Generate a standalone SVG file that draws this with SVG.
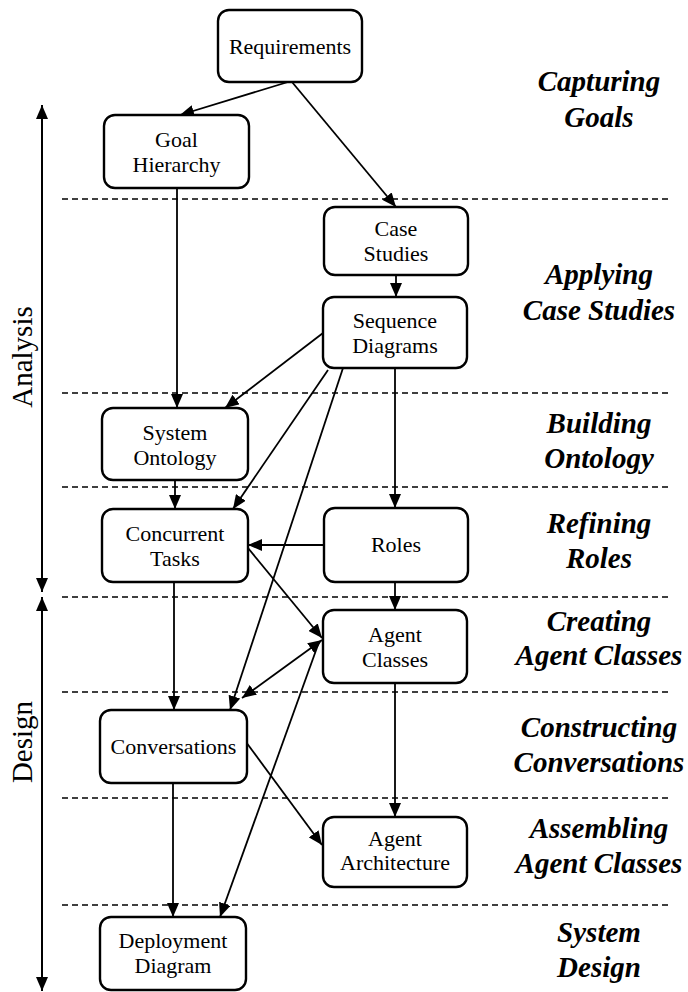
<svg xmlns="http://www.w3.org/2000/svg" width="688" height="992" viewBox="0 0 688 992">
  <style>
    .box { fill: #fff; stroke: #000; stroke-width: 2.4; }
    .lbl { font-family: "Liberation Serif", "Times New Roman", serif; font-size: 22px; fill: #000; text-anchor: middle; }
    .phase { font-family: "Liberation Serif", "Times New Roman", serif; font-size: 29px; font-weight: bold; font-style: italic; fill: #000; text-anchor: middle; }
    .axis-lbl { font-family: "Liberation Serif", "Times New Roman", serif; font-size: 29px; fill: #000; text-anchor: middle; }
    .sep { stroke: #000; stroke-width: 1.6; stroke-dasharray: 6 4; fill: none; }
    .edge { stroke: #000; stroke-width: 1.8; fill: none; marker-end: url(#arrow); }
    .both { marker-start: url(#arrow); }
    .axis { stroke: #000; stroke-width: 2; fill: none; marker-start: url(#arrow); marker-end: url(#arrow); }
  </style>
  <defs>
    <marker id="arrow" viewBox="0 0 14 12" refX="14" refY="6" markerWidth="14" markerHeight="12" markerUnits="userSpaceOnUse" orient="auto-start-reverse">
      <path d="M0,0 L14,6 L0,12 z" fill="#000"/>
    </marker>
  </defs>
  <rect width="688" height="992" fill="#fff"/>

  <!-- phase separators -->
  <g id="separators">
    <line class="sep" x1="62" y1="199" x2="668" y2="199"/>
    <line class="sep" x1="62" y1="393" x2="668" y2="393"/>
    <line class="sep" x1="62" y1="487" x2="668" y2="487"/>
    <line class="sep" x1="62" y1="597" x2="668" y2="597"/>
    <line class="sep" x1="62" y1="692" x2="668" y2="692"/>
    <line class="sep" x1="62" y1="798" x2="668" y2="798"/>
    <line class="sep" x1="62" y1="905" x2="668" y2="905"/>
  </g>

  <!-- Analysis / Design axis -->
  <g id="axis">
    <line class="axis" x1="42" y1="105" x2="42" y2="592"/>
    <line class="axis" x1="42" y1="597" x2="42" y2="991"/>
    <text class="axis-lbl" transform="translate(32,357) rotate(-90)">Analysis</text>
    <text class="axis-lbl" transform="translate(32,742) rotate(-90)">Design</text>
  </g>

  <!-- connectors -->
  <g id="connectors">
    <line class="edge" x1="288" y1="82" x2="180" y2="115"/>
    <line class="edge" x1="292" y1="82" x2="396" y2="207"/>
    <line class="edge" x1="177" y1="188" x2="177" y2="408"/>
    <line class="edge" x1="396" y1="275" x2="396" y2="297"/>
    <line class="edge" x1="323" y1="333" x2="225" y2="408"/>
    <line class="edge" x1="395" y1="368" x2="395" y2="508"/>
    <line class="edge" x1="175" y1="480" x2="175" y2="509"/>
    <line class="edge" x1="328" y1="370" x2="233" y2="509"/>
    <line class="edge" x1="343" y1="368" x2="230" y2="710"/>
    <line class="edge" x1="324" y1="545" x2="248" y2="545"/>
    <line class="edge" x1="174" y1="582" x2="174" y2="710"/>
    <line class="edge" x1="395" y1="582" x2="395" y2="610"/>
    <line class="edge" x1="248" y1="548" x2="322" y2="638"/>
    <line class="edge both" x1="322" y1="640" x2="242" y2="698"/>
    <line class="edge" x1="395" y1="683" x2="395" y2="817"/>
    <line class="edge" x1="246" y1="742" x2="322" y2="845"/>
    <line class="edge" x1="173" y1="783" x2="173" y2="917"/>
    <line class="edge" x1="319" y1="642" x2="220" y2="917"/>
  </g>

  <!-- nodes -->
  <g id="requirements">
    <rect class="box" x="218" y="10" width="144" height="72" rx="11"/>
    <text class="lbl" x="290" y="54">Requirements</text>
  </g>
  <g id="goal-hierarchy">
    <rect class="box" x="104" y="115" width="145" height="73" rx="11"/>
    <text class="lbl" x="176.5" y="147">Goal</text>
    <text class="lbl" x="176.5" y="172">Hierarchy</text>
  </g>
  <g id="case-studies">
    <rect class="box" x="324" y="207" width="144" height="68" rx="11"/>
    <text class="lbl" x="396" y="236">Case</text>
    <text class="lbl" x="396" y="261">Studies</text>
  </g>
  <g id="sequence-diagrams">
    <rect class="box" x="323" y="297" width="144" height="71" rx="11"/>
    <text class="lbl" x="395" y="328">Sequence</text>
    <text class="lbl" x="395" y="353">Diagrams</text>
  </g>
  <g id="system-ontology">
    <rect class="box" x="102" y="408" width="146" height="72" rx="11"/>
    <text class="lbl" x="175" y="440">System</text>
    <text class="lbl" x="175" y="465">Ontology</text>
  </g>
  <g id="concurrent-tasks">
    <rect class="box" x="102" y="509" width="146" height="73" rx="11"/>
    <text class="lbl" x="175" y="541">Concurrent</text>
    <text class="lbl" x="175" y="566">Tasks</text>
  </g>
  <g id="roles">
    <rect class="box" x="324" y="508" width="144" height="74" rx="11"/>
    <text class="lbl" x="396" y="552">Roles</text>
  </g>
  <g id="agent-classes">
    <rect class="box" x="323" y="610" width="144" height="73" rx="11"/>
    <text class="lbl" x="395" y="642">Agent</text>
    <text class="lbl" x="395" y="667">Classes</text>
  </g>
  <g id="conversations">
    <rect class="box" x="100" y="710" width="147" height="73" rx="11"/>
    <text class="lbl" x="173.5" y="754">Conversations</text>
  </g>
  <g id="agent-architecture">
    <rect class="box" x="323" y="817" width="144" height="70" rx="11"/>
    <text class="lbl" x="395" y="846">Agent</text>
    <text class="lbl" x="395" y="870">Architecture</text>
  </g>
  <g id="deployment-diagram">
    <rect class="box" x="100" y="917" width="146" height="73" rx="11"/>
    <text class="lbl" x="173" y="948">Deployment</text>
    <text class="lbl" x="173" y="973">Diagram</text>
  </g>

  <!-- phase names -->
  <g id="phases">
    <text class="phase" x="599" y="91">Capturing</text>
    <text class="phase" x="599" y="127">Goals</text>
    <text class="phase" x="599" y="284">Applying</text>
    <text class="phase" x="599" y="320">Case Studies</text>
    <text class="phase" x="599" y="433">Building</text>
    <text class="phase" x="599" y="468">Ontology</text>
    <text class="phase" x="599" y="533">Refining</text>
    <text class="phase" x="599" y="568">Roles</text>
    <text class="phase" x="599" y="631">Creating</text>
    <text class="phase" x="599" y="665">Agent Classes</text>
    <text class="phase" x="599" y="737">Constructing</text>
    <text class="phase" x="599" y="772">Conversations</text>
    <text class="phase" x="599" y="838">Assembling</text>
    <text class="phase" x="599" y="873">Agent Classes</text>
    <text class="phase" x="599" y="942">System</text>
    <text class="phase" x="599" y="977">Design</text>
  </g>
</svg>
